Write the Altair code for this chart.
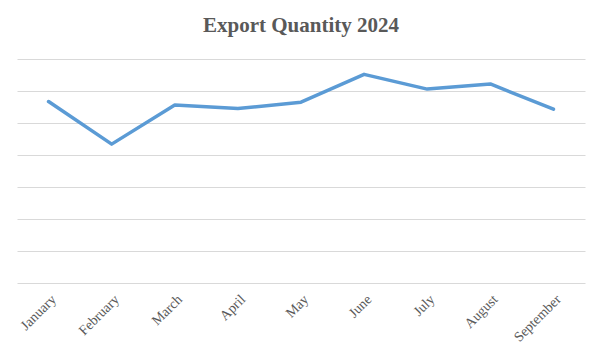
import altair as alt
import pandas as pd

months = ["January", "February", "March", "April", "May", "June", "July", "August", "September"]
values = [5.67, 4.34, 5.56, 5.45, 5.65, 6.52, 6.06, 6.22, 5.43]

df = pd.DataFrame({"month": months, "value": values})

chart = alt.Chart(df).mark_line(color="#5B9BD5", strokeWidth=3.5, strokeCap="round", strokeJoin="round").encode(
    x=alt.X("month:N", sort=months, title=None,
            scale=alt.Scale(type="point", padding=0.5),
            axis=alt.Axis(labelAngle=-45, labelFont="Liberation Serif", labelFontSize=14,
                          labelColor="#595959", ticks=False, domain=False, grid=False,
                          labelPadding=9, labelAlign="right", labelBaseline="top")),
    y=alt.Y("value:Q", title=None,
            scale=alt.Scale(domain=[0, 7], nice=False, zero=True),
            axis=alt.Axis(values=[0, 1, 2, 3, 4, 5, 6, 7], labels=False, ticks=False, domain=False,
                          grid=True, gridColor="#d9d9d9", gridWidth=1)),
).properties(
    width=568,
    height=224,
    title=alt.TitleParams("Export Quantity 2024", font="Liberation Serif", fontSize=21,
                          fontWeight="bold", color="#595959", anchor="middle", offset=23),
    autosize=alt.AutoSizeParams(type="none"),
    padding={"left": 9, "top": 51, "right": 7, "bottom": 70},
).configure_view(stroke=None)

chart.save("out.html", embed_options={"renderer": "svg", "actions": False})
